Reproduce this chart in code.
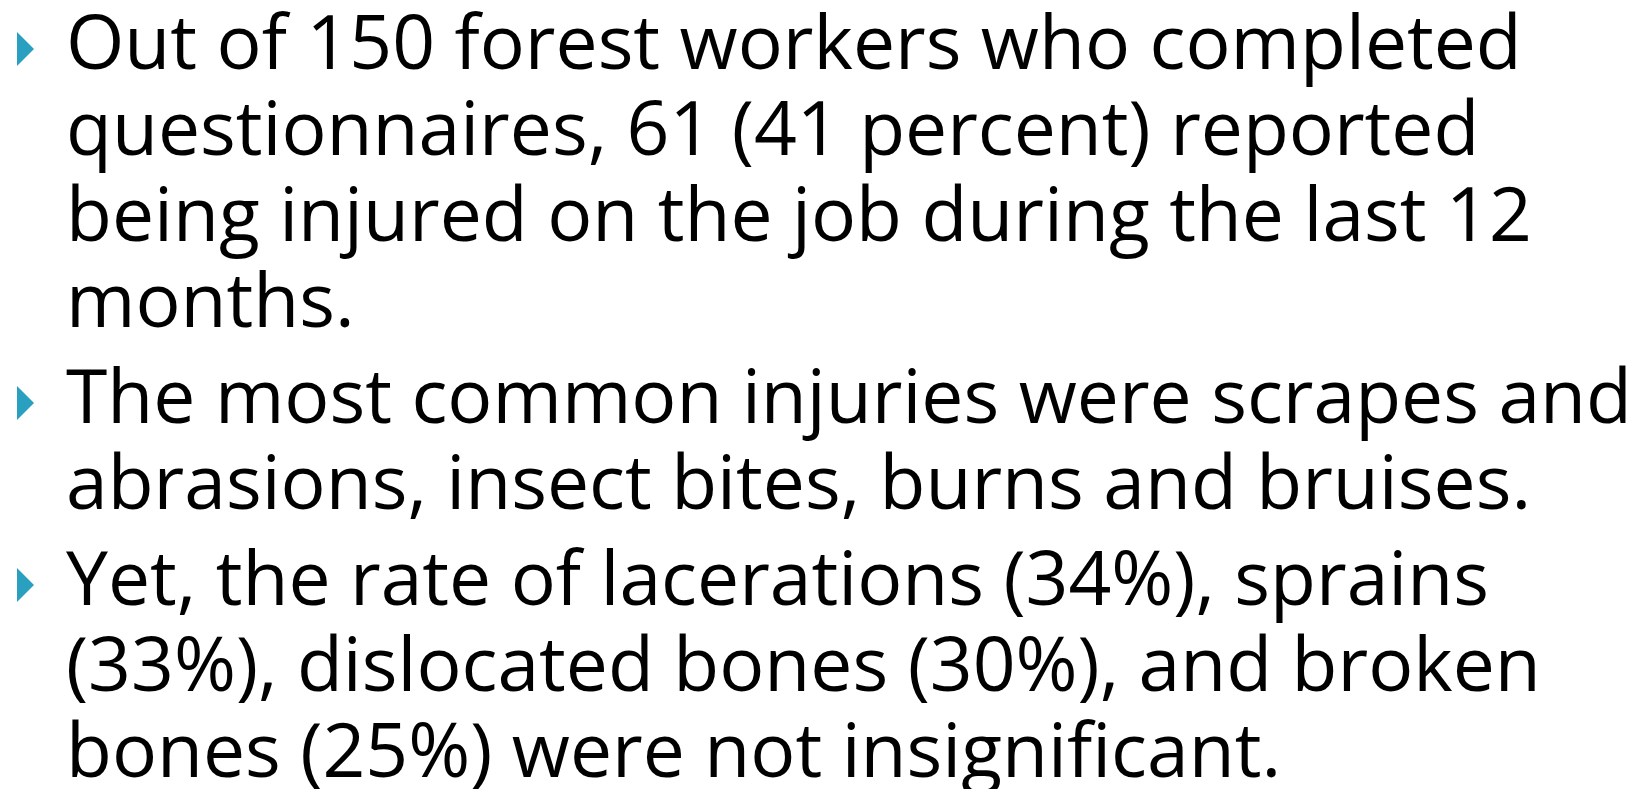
<!DOCTYPE html>
<html><head><meta charset="utf-8">
<script src="https://cdn.jsdelivr.net/npm/chart.js@4"></script>
<style>
html, body { margin: 0; background: #fff; }
#slide { position: relative; width: 1642px; height: 792px; overflow: hidden; }
.para { position: relative; margin: 0; padding-left: 66px; }
.para + .para { margin-top: 10px; }
.line {
  font-family: "Open Sans", sans-serif;
  font-size: 75px;
  letter-spacing: 0px;
  line-height: 86px;
  height: 86px;
  color: #000;
  white-space: nowrap;
}
.bullet {
  position: absolute; left: 17px; width: 0; height: 0;
  border-top: 17px solid transparent;
  border-bottom: 17px solid transparent;
  border-left: 17px solid #2aa0c0;
}
</style>
</head><body>
<div id="slide"></div>
<script>
// 슬라이드 문단 (줄 단위)
const para1 = ['Out of 150 forest workers who completed', 'questionnaires, 61 (41 percent) reported', 'being injured on the job during the last 12', 'months.'];
const para2 = ['The most common injuries were scrapes and', 'abrasions, insect bites, burns and bruises.'];
const para3 = ['Yet, the rate of lacerations (34%), sprains', '(33%), dislocated bones (30%), and broken', 'bones (25%) were not insignificant.'];
const paragraphs = [para1, para2, para3];

const slide = document.getElementById('slide');
paragraphs.forEach(lines => {
  const p = document.createElement('div');
  p.className = 'para';
  const b = document.createElement('div');
  b.className = 'bullet';
  p.appendChild(b);
  lines.forEach(t => {
    const d = document.createElement('div');
    d.className = 'line';
    d.textContent = t;
    p.appendChild(d);
  });
  slide.appendChild(p);
});

// 첫 줄 기준선 69px 에 맞추기
const c = document.createElement('canvas').getContext('2d');
c.font = '75px "Open Sans"';
const m = c.measureText('O');
const asc = m.fontBoundingBoxAscent, desc = m.fontBoundingBoxDescent;
const baseInLine = (86 - (asc + desc)) / 2 + asc;
slide.style.marginTop = (69 - baseInLine) + 'px';
document.querySelectorAll('.bullet').forEach(b => {
  b.style.top = (baseInLine - 37) + 'px';
});
</script>
</body></html>
